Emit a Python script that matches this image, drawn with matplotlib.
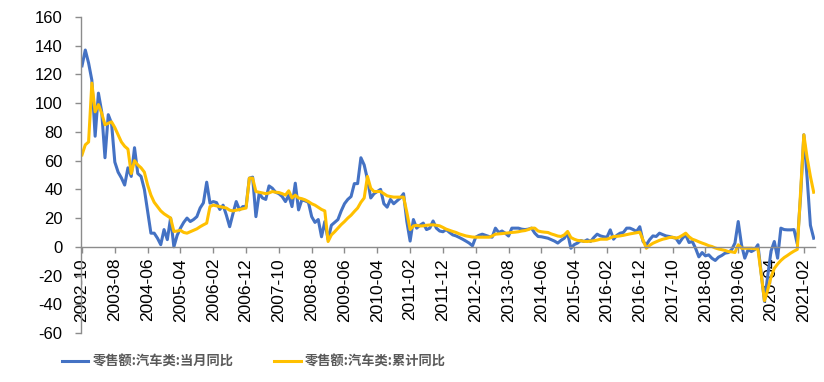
import numpy as np
import pandas as pd
import matplotlib
matplotlib.use('Agg')
import matplotlib.pyplot as plt

# monthly series, 2002-10 .. 2021-05
months = pd.period_range('2002-10', periods=224, freq='M')

monthly_yoy = [
    126, 137, 128, 116, 77, 107, 94, 62, 92, 86, 59, 52,
    48, 43, 55, 49, 69, 51, 49, 40, 25, 9.5, 9.5, 6,
    1.5, 12, 5, 20, 0, 8, 13, 17, 20, 17.6, 19, 21,
    27, 30.6, 45, 30.4, 31.5, 30.8, 26, 29, 22, 14, 23, 31.5,
    25.7, 28, 28, 47.8, 48.5, 21, 37.3, 34, 33, 42.4, 40.8, 38,
    37, 35, 31.5, 36, 28, 44.3, 25.7, 32.7, 32, 31, 21, 17,
    19, 7, 17.6, 5, 15, 17, 19, 25, 30, 33, 35, 44,
    44, 62, 57, 47, 34, 37, 38.5, 40, 30, 27.6, 33, 30,
    32, 34, 37, 17.6, 4, 19, 13, 15, 16.5, 12, 13, 18,
    13, 11, 10.5, 12, 10, 8.3, 7.6, 6.5, 5.3, 4, 2.6, 0.7,
    6.7, 8, 8.8, 8, 7.2, 6.7, 13, 10, 11, 9.5, 7.5, 13,
    13, 13, 12.3, 12, 12.3, 13, 9.5, 7.2, 7, 6.5, 6, 5,
    4, 2.6, 4.5, 6, 9.5, -1, 1.5, 2.6, 4.4, 3.7, 4.9, 3.7,
    6.5, 8.8, 7.6, 7, 6.7, 11.8, 5.3, 8, 9.5, 10, 13, 13,
    12, 10.7, 14, 3.7, 1.4, 5, 7.6, 7.2, 9.5, 8.5, 7.6, 7.2,
    6.5, 6, 2.6, 6, 8.3, 3, 3.7, -1, -7, -4, -6.3, -5.6,
    -8, -9.5, -7.2, -6, -4.4, -4, -2, 2.6, 17.6, 1.4, -7.9, -2,
    -3.3, -2, 1.4, -18, -38, -20, -3, 3.7, -7.9, 13, 12, 11.8,
    11.8, 12, 2, 35, 78, 48, 15, 6,
]

cumulative_yoy = [
    64, 71, 73, 114, 94, 99, 93, 85, 86, 87, 83, 78,
    73, 70, 68, 51, 60, 57, 55, 52, 43, 36, 31, 28,
    25, 23, 21.5, 20, 10.7, 11, 11.5, 10, 9.5, 10.5, 11.5, 12.5,
    14, 15.3, 16.5, 28, 29, 28.5, 28, 27.5, 27, 25.5, 25, 25.5,
    26, 26.5, 27, 47.8, 47.8, 38.5, 38, 37.5, 37, 37.5, 38.5, 38,
    37.8, 37, 36, 39, 34, 36, 34, 33.5, 32.7, 31.5, 30, 29,
    27.5, 26, 25, 3.7, 8.3, 10.5, 13, 15.5, 17.6, 20, 22, 24.6,
    27, 31, 34, 49, 40.8, 38.5, 38.5, 38.5, 37, 35.5, 35, 34.6,
    34.6, 34.6, 34.6, 24, 12, 14.5, 15, 14.5, 14.6, 15, 15.2, 15.3,
    15, 14.6, 13.5, 12.3, 11.5, 10.7, 10, 9, 8.3, 7.6, 7.2, 6.8,
    6.7, 6.7, 6.7, 6.7, 6.7, 7.5, 8.8, 9, 9.2, 9.5, 9.7, 10,
    10.2, 10.5, 11, 11.3, 12, 13, 13, 11, 10.5, 10.2, 10, 9,
    8.3, 7.5, 7.2, 8.3, 10.7, 6.5, 5.3, 4.5, 4.2, 3.8, 3.7, 4,
    4.2, 4.7, 5.3, 5.3, 5.3, 6.2, 7.2, 7.3, 7.6, 8, 8.5, 9,
    9.4, 9.8, 10.2, 4.5, -1, 1, 2.5, 3.5, 4.5, 5.3, 5.8, 6.5,
    6.7, 6, 6.7, 8, 9.5, 7, 5.3, 4.5, 3.5, 2.6, 1.8, 0.8,
    0.2, -0.8, -1.5, -2, -2.5, -3.3, -3.5, -4, 1.4, -1, -1, -1,
    -1, -1.3, -1.6, -19, -37.5, -30, -21, -15, -12, -9.5, -7.5, -6,
    -4.4, -3, -1.8, 38, 78, 62, 49, 38,
]

tick_labels = ['2002-10', '2003-08', '2004-06', '2005-04', '2006-02', '2006-12',
               '2007-10', '2008-08', '2009-06', '2010-04', '2011-02', '2011-12',
               '2012-10', '2013-08', '2014-06', '2015-04', '2016-02', '2016-12',
               '2017-10', '2018-08', '2019-06', '2020-04', '2021-02']

series_names = ['零售额:汽车类:当月同比', '零售额:汽车类:累计同比']

plt.rcParams['font.family'] = ['Liberation Sans', 'DejaVu Sans']
plt.rcParams['axes.unicode_minus'] = False

x = np.arange(len(months))
labels = list(months.strftime('%Y-%m'))
tick_pos = [labels.index(t) for t in tick_labels]

fig = plt.figure(figsize=(8.24, 3.82), dpi=100)
ax = fig.add_axes([80.7 / 824, 1 - 333 / 382, (815 - 80.7) / 824, (333 - 17) / 382])

l1, = ax.plot(x, monthly_yoy, color='#4472C4', lw=2.2, solid_joinstyle='round')
l2, = ax.plot(x, cumulative_yoy, color='#FFC000', lw=2.2, solid_joinstyle='round')

# x axis crosses at 0, labels hang into the negative area
for s in ['top', 'right']:
    ax.spines[s].set_visible(False)
ax.spines['bottom'].set_position(('data', 0))
for s in ['left', 'bottom']:
    ax.spines[s].set_color('#8c8c8c')
    ax.spines[s].set_linewidth(1)

ax.set_xlim(-0.4, len(x) - 1 + 0.4)
ax.set_ylim(-60, 160)
ax.set_yticks(range(-60, 161, 20))
ax.set_xticks(tick_pos)
ax.set_xticklabels(tick_labels)

ax.tick_params(axis='y', direction='out', length=4, width=1, color='#8c8c8c',
               pad=9, labelsize=12, labelcolor='black')
ax.tick_params(axis='x', direction='out', length=4, width=1, color='#8c8c8c',
               pad=4, labelsize=12.5, labelcolor='black', labelrotation=90)
for t in ax.get_xticklabels():
    t.set_va('top')
    t.set_ha('center')

fig.legend([l1, l2], series_names, loc='center left',
           bbox_to_anchor=(62 / 824, 1 - 362 / 382), ncol=2, frameon=False,
           borderpad=0, borderaxespad=0, handlelength=2.0, handletextpad=0.3,
           columnspacing=3.1, labelcolor='#595959',
           prop={'family': ['Noto Sans CJK SC', 'DejaVu Sans'], 'weight': 'bold', 'size': 9.5})

fig.savefig('out.png', dpi=100)
